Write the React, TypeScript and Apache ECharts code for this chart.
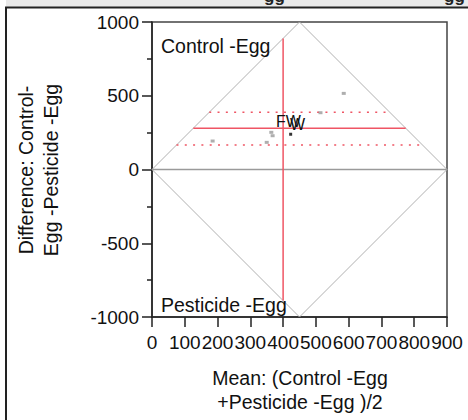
import React, { useEffect, useRef } from "react";
import * as echarts from "echarts";

const pointMeans = [585, 514, 364, 368, 350, 185];
const pointDiffs = [516, 385, 252, 229, 184, 193];
// highlighted (labelled) observation
const selectedMeans = [423];
const selectedDiffs = [239];

// Summary statistics
const meanOfMeans = 400;
const meanDifference = 280;
const ciUpper = 388;
const ciLower = 166;

// Axis settings
const xMin = 0;
const xMax = 900;
const xStep = 100;
const yMin = -1000;
const yMax = 1000;
const yStep = 500;

// Range diamond vertices (mean, difference)
const diamondMeans = [0, 450, 900, 450, 0];
const diamondDiffs = [0, 1000, 0, -1000, 0];

const FONT = "Arial, 'Liberation Sans', sans-serif";
const RED = "#ef5564";

function edgeLeft(d: number) {
  return (Math.abs(d) * (diamondMeans[1] - diamondMeans[0])) / diamondDiffs[1];
}
function edgeRight(d: number) {
  return diamondMeans[2] - edgeLeft(d);
}
function diffAt(m: number) {
  const half = diamondMeans[2] / 2;
  const dist = m <= half ? m : diamondMeans[2] - m;
  return (dist / half) * diamondDiffs[1];
}

export default function App() {
  const ref = useRef<HTMLDivElement>(null);
  useEffect(() => {
    if (!ref.current) return;
    const chart = echarts.init(ref.current, null, { renderer: "svg" });
    const vTop = diffAt(meanOfMeans);
    const option: any = {
      animation: false,
      backgroundColor: "#ffffff",
      grid: {
        left: 152,
        right: 21,
        top: 22,
        bottom: 103,
        show: true,
        borderColor: "#444",
        borderWidth: 1.5,
        backgroundColor: "transparent",
      },
      xAxis: {
        type: "value",
        min: xMin,
        max: xMax,
        interval: xStep,
        axisLine: { show: true, onZero: false, lineStyle: { color: "#222", width: 1.5 } },
        axisTick: { show: true, length: 10, lineStyle: { color: "#222", width: 1.5 } },
        axisLabel: {
          color: "#111",
          fontSize: 19,
          fontFamily: FONT,
          margin: 16,
          formatter: (v: number) => String(v),
        },
        splitLine: { show: false },
      },
      yAxis: {
        type: "value",
        min: yMin,
        max: yMax,
        interval: yStep,
        axisLine: { show: true, onZero: false, lineStyle: { color: "#222", width: 1.5 } },
        axisTick: { show: true, length: 10, lineStyle: { color: "#222", width: 1.5 } },
        minorTick: { show: true, splitNumber: 2, length: 5, lineStyle: { color: "#222", width: 1.5 } },
        axisLabel: {
          color: "#111",
          fontSize: 19,
          fontFamily: FONT,
          margin: 13,
          formatter: (v: number) => String(v),
        },
        splitLine: { show: false },
      },
      series: [
        {
          type: "line",
          data: diamondMeans.map((m, i) => [m, diamondDiffs[i]]),
          symbol: "none",
          lineStyle: { color: "#b0b0b0", width: 1 },
          silent: true,
          z: 1,
        },
        {
          type: "line",
          data: [
            [xMin, 0],
            [xMax, 0],
          ],
          symbol: "none",
          lineStyle: { color: "#9a9a9a", width: 1.5 },
          silent: true,
          z: 1,
        },
        {
          type: "line",
          data: [
            [edgeLeft(meanDifference), meanDifference],
            [edgeRight(meanDifference), meanDifference],
          ],
          symbol: "none",
          lineStyle: { color: RED, width: 1.5 },
          z: 3,
        },
        {
          type: "line",
          data: [
            [edgeLeft(ciUpper), ciUpper],
            [edgeRight(ciUpper), ciUpper],
          ],
          symbol: "none",
          lineStyle: { color: RED, width: 1.5, type: [2, 6.3] },
          z: 3,
        },
        {
          type: "line",
          data: [
            [edgeLeft(ciLower), ciLower],
            [edgeRight(ciLower), ciLower],
          ],
          symbol: "none",
          lineStyle: { color: RED, width: 1.5, type: [2, 6.3] },
          z: 3,
        },
        {
          type: "line",
          data: [
            [meanOfMeans, -vTop],
            [meanOfMeans, vTop],
          ],
          symbol: "none",
          lineStyle: { color: RED, width: 1.5 },
          z: 3,
        },
        {
          type: "scatter",
          data: pointMeans.map((m, i) => [m, pointDiffs[i]]),
          symbol: "rect",
          symbolSize: [4, 3],
          itemStyle: { color: "#9a9a9a" },
          z: 4,
        },
        {
          type: "scatter",
          data: selectedMeans.map((m, i) => [m, selectedDiffs[i]]),
          symbol: "rect",
          symbolSize: [3, 3],
          itemStyle: { color: "#000" },
          z: 5,
        },
      ],
      graphic: [
        { type: "rect", shape: { x: 6, y: 0, width: 462, height: 7 }, style: { fill: "#e9e9e9" }, z: 0 },
        {
          type: "text",
          x: 264,
          y: 5,
          style: { text: "gg", font: `bold 17px ${FONT}`, fill: "#222", verticalAlign: "bottom" },
        },
        {
          type: "text",
          x: 444,
          y: 5,
          style: { text: "gg", font: `bold 17px ${FONT}`, fill: "#222", verticalAlign: "bottom" },
        },
        { type: "line", shape: { x1: 5, y1: 7.5, x2: 468, y2: 7.5 }, style: { stroke: "#222", lineWidth: 2 } },
        { type: "line", shape: { x1: 6, y1: 7, x2: 6, y2: 420 }, style: { stroke: "#222", lineWidth: 2 } },
        {
          type: "text",
          x: 161,
          y: 46,
          style: { text: "Control -Egg", font: `19.5px ${FONT}`, fill: "#111", verticalAlign: "middle" },
          z: 10,
        },
        {
          type: "text",
          x: 161,
          y: 305,
          style: { text: "Pesticide -Egg", font: `19.5px ${FONT}`, fill: "#111", verticalAlign: "middle" },
          z: 10,
        },
        {
          type: "text",
          x: 276,
          y: 121,
          style: { text: "FW", font: `16px ${FONT}`, fill: "#111", verticalAlign: "middle" },
          z: 10,
        },
        {
          type: "text",
          x: 290,
          y: 124,
          style: { text: "W", font: `16px ${FONT}`, fill: "#111", verticalAlign: "middle" },
          z: 10,
        },
        {
          type: "text",
          x: 300,
          y: 390,
          style: {
            text: "Mean: (Control -Egg\n+Pesticide -Egg )/2",
            font: `19.5px ${FONT}`,
            lineHeight: 24,
            fill: "#111",
            align: "center",
            verticalAlign: "middle",
          },
          z: 10,
        },
        {
          type: "text",
          x: 38,
          y: 170,
          rotation: Math.PI / 2,
          style: {
            text: "Difference: Control-\nEgg -Pesticide -Egg",
            font: `19.5px ${FONT}`,
            lineHeight: 25,
            fill: "#111",
            align: "center",
            verticalAlign: "middle",
          },
          z: 10,
        },
      ],
    };
    chart.setOption(option);
    return () => chart.dispose();
  }, []);
  return (
    <div
      ref={ref}
      style={{ position: "fixed", left: 0, top: 0, width: 468, height: 420, background: "#fff" }}
    />
  );
}
